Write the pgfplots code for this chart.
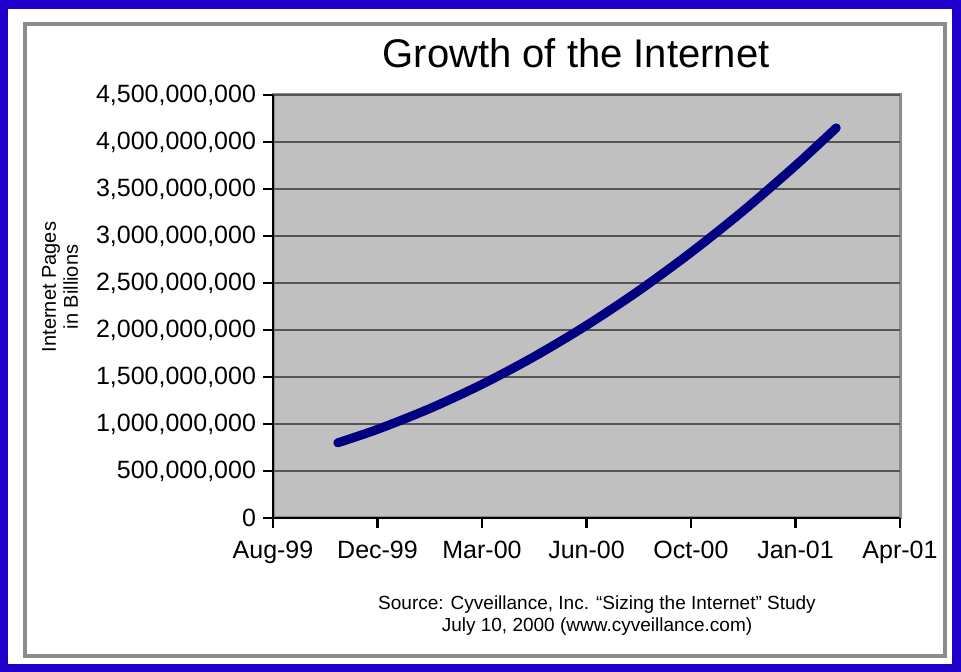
\documentclass[border=0pt]{standalone}
\usepackage{pgfplots}
\pgfplotsset{compat=1.18}
\usepackage{fontspec}
\setmainfont{Liberation Sans}
\definecolor{borderblue}{RGB}{31,0,204}
\definecolor{plotgray}{RGB}{192,192,192}
\definecolor{gridgray}{RGB}{85,85,85}
\definecolor{framegray}{RGB}{140,140,140}
\definecolor{linenavy}{RGB}{0,0,128}
\begin{document}
\begin{tikzpicture}[x=1pt,y=1pt]
\fill[borderblue] (0,0) rectangle (480.5,336);
\fill[white] (4,4) rectangle (476,331.5);
\draw[framegray, line width=2pt] (12.5,8) rectangle (472.5,324);
\node[font=\fontsize{20}{22}\selectfont] at (288,309.5) {Growth of the Internet};
\node[font=\fontsize{10}{11}\selectfont, rotate=90, align=center] at (30,192.5) {Internet Pages\\in Billions};
\node[font=\fontsize{9.5}{11}\selectfont, align=center] at (298.5,28) {Source: Cyveillance, Inc. ``Sizing the Internet'' Study\\July 10, 2000 (www.cyveillance.com)};
\begin{axis}[
  at={(136.5pt,77pt)}, anchor=south west,
  scale only axis, width=313.5pt, height=211.5pt,
  xmin=0, xmax=6, ymin=0, ymax=4500000000,
  axis background/.style={fill=plotgray, draw=framegray, line width=1.5pt},
  axis x line*=bottom, axis y line*=left,
  axis line style={-, black, line width=1.2pt},
  xtick={0,1,2,3,4,5,6},
  xticklabels={Aug-99,Dec-99,Mar-00,Jun-00,Oct-00,Jan-01,Apr-01},
  ytick={0,500000000,1000000000,1500000000,2000000000,2500000000,3000000000,3500000000,4000000000,4500000000},
  scaled y ticks=false,
  yticklabel style={font=\fontsize{12.5}{13}\selectfont, /pgf/number format/.cd, fixed, precision=0, 1000 sep={,}, assume math mode=true},
  xticklabel style={font=\fontsize{12.5}{13}\selectfont, yshift=-3pt},
  tick align=outside, tick pos=left,
  major tick length=5pt,
  tick style={black, line width=1.2pt},
  ymajorgrids, grid style={gridgray, line width=1.3pt},
  clip=false,
]
\addplot[linenavy, line width=4.5pt, line cap=round, smooth] coordinates {
(0.62,800000000) (1.0,943000000) (1.5,1164000000) (2.0,1422000000)
(2.5,1717000000) (3.0,2049000000) (3.5,2418000000) (4.0,2825000000)
(4.5,3268000000) (5.0,3749000000) (5.39,4150000000)
};
\end{axis}
\end{tikzpicture}
\end{document}
